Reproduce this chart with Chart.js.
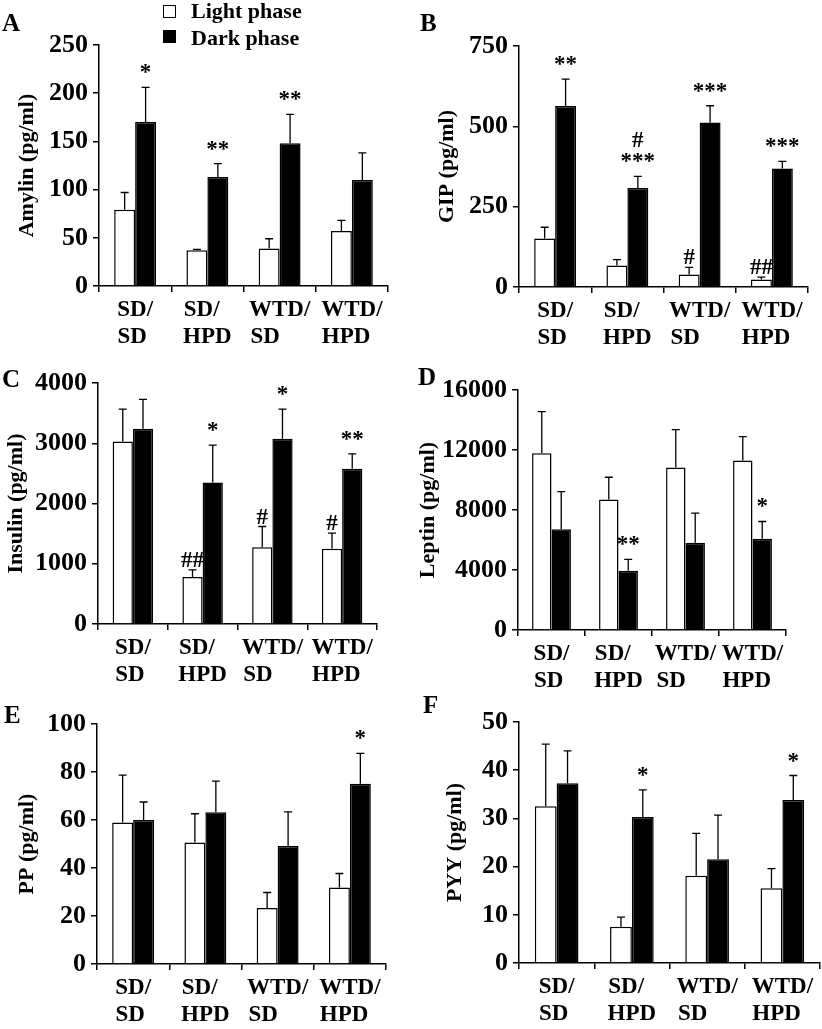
<!DOCTYPE html>
<html>
<head>
<meta charset="utf-8">
<script src="https://cdn.jsdelivr.net/npm/chart.js@4.4.1/dist/chart.umd.min.js"></script>
<style>
    html, body { margin: 0; padding: 0; background: #fff; }
    body { width: 822px; height: 1029px; position: relative; overflow: hidden;
           font-family: 'Liberation Serif', 'Times New Roman', serif; font-weight: bold; color: #000; }
    canvas { position: absolute; }
    .letter { position: absolute; font-size: 25px; line-height: 1; }
    .legend-box { position: absolute; width: 11px; height: 11px; border: 1.5px solid #000; }
    .legend-text { position: absolute; font-size: 22px; line-height: 1; white-space: nowrap; }
</style>
</head>
<body>
<canvas id="chartA" width="410" height="360" style="left:0;top:0"></canvas>
<canvas id="chartB" width="412" height="360" style="left:410px;top:0"></canvas>
<canvas id="chartC" width="410" height="360" style="left:0;top:340px"></canvas>
<canvas id="chartD" width="412" height="360" style="left:410px;top:340px"></canvas>
<canvas id="chartE" width="410" height="349" style="left:0;top:680px"></canvas>
<canvas id="chartF" width="412" height="349" style="left:410px;top:680px"></canvas>

<div class="letter" style="left:2px;top:10px">A</div>
<div class="letter" style="left:420px;top:10px">B</div>
<div class="letter" style="left:2px;top:366px">C</div>
<div class="letter" style="left:418px;top:364px">D</div>
<div class="letter" style="left:4px;top:702px">E</div>
<div class="letter" style="left:423px;top:692px">F</div>

<div class="legend-box" style="left:163px;top:5px;background:#fff"></div>
<div class="legend-text" style="left:191px;top:0px">Light phase</div>
<div class="legend-box" style="left:163px;top:30px;background:#000"></div>
<div class="legend-text" style="left:191px;top:27px">Dark phase</div>

<script>
// Categories (multi-line, padded so each block reads left-aligned).
const CATEGORIES = [['SD/', 'SD '], ['SD/  ', 'HPD'], ['WTD/', 'SD     '], ['WTD/', 'HPD  ']];

// Amylin (panel A).
const AMYLIN_LIGHT = [79, 37, 39, 57];
const AMYLIN_LIGHT_SEM = [18, 1, 10, 11];
const AMYLIN_DARK = [170, 113, 148, 110];
const AMYLIN_DARK_SEM = [36, 14, 30, 28];
const AMYLIN_LIGHT_MARKS = ['', '', '', ''];
const AMYLIN_DARK_MARKS = ['*', '**', '**', ''];

// GIP (panel B).
const GIP_LIGHT = [151, 67, 39, 23];
const GIP_LIGHT_SEM = [35, 18, 22, 8];
const GIP_DARK = [563, 308, 512, 369];
const GIP_DARK_SEM = [84, 36, 52, 22];
const GIP_LIGHT_MARKS = ['', '', '#', '##'];
const GIP_DARK_MARKS = ['**', '#\n***', '***', '***'];

// Insulin (panel C).
const INSULIN_LIGHT = [3030, 781, 1274, 1247];
const INSULIN_LIGHT_SEM = [538, 116, 344, 260];
const INSULIN_DARK = [3241, 2349, 3075, 2576];
const INSULIN_DARK_SEM = [488, 621, 493, 249];
const INSULIN_LIGHT_MARKS = ['', '##', '#', '#'];
const INSULIN_DARK_MARKS = ['', '*', '*', '**'];

// Leptin (panel D).
const LEPTIN_LIGHT = [11783, 8699, 10829, 11295];
const LEPTIN_LIGHT_SEM = [2774, 1486, 2529, 1598];
const LEPTIN_DARK = [6724, 3950, 5814, 6080];
const LEPTIN_DARK_SEM = [2507, 754, 1975, 1154];
const LEPTIN_LIGHT_MARKS = ['', '', '', ''];
const LEPTIN_DARK_MARKS = ['', '**', '', '*'];

// PP (panel E).
const PP_LIGHT = [59, 50.6, 23.3, 31.9];
const PP_LIGHT_SEM = [19.7, 12, 6.5, 5.8];
const PP_DARK = [60, 63.2, 49.2, 75.1];
const PP_DARK_SEM = [7.5, 13, 14.2, 12.7];
const PP_LIGHT_MARKS = ['', '', '', ''];
const PP_DARK_MARKS = ['', '', '', '*'];

// PYY (panel F).
const PYY_LIGHT = [32.5, 7.5, 18.1, 15.5];
const PYY_LIGHT_SEM = [12.9, 2, 8.8, 4.1];
const PYY_DARK = [37.3, 30.3, 21.5, 33.8];
const PYY_DARK_SEM = [6.7, 5.6, 9.2, 5.1];
const PYY_LIGHT_MARKS = ['', '', '', ''];
const PYY_DARK_MARKS = ['', '*', '', '*'];

Chart.defaults.font.family = "'Liberation Serif', 'Times New Roman', serif";
Chart.defaults.font.weight = 'bold';
Chart.defaults.color = '#000';

/*
*   Plugin that draws the SEM whiskers and the significance marks above each bar.
*/
const errorBars = {
    id: 'errorBars',
    afterDatasetsDraw: (chart) => {
        const ctx = chart.ctx;
        const yScale = chart.scales.y;
        chart.data.datasets.forEach((ds, di) => {
            const meta = chart.getDatasetMeta(di);
            meta.data.forEach((bar, i) => {
                const top = yScale.getPixelForValue(ds.data[i] + ds.sem[i]);
                ctx.save();
                ctx.strokeStyle = '#000';
                ctx.lineWidth = 1.3;
                ctx.beginPath();
                ctx.moveTo(bar.x, bar.y);
                ctx.lineTo(bar.x, top);
                ctx.moveTo(bar.x - 4, top);
                ctx.lineTo(bar.x + 4, top);
                ctx.stroke();
                const mark = ds.marks[i];
                if (mark) {
                    ctx.fillStyle = '#000';
                    ctx.font = "bold 23px 'Liberation Serif'";
                    ctx.textAlign = 'center';
                    ctx.textBaseline = 'alphabetic';
                    const lines = mark.split('\n').reverse();
                    let base = top - (lines[0].includes('*') ? 8 : 3);
                    lines.forEach((line) => {
                        ctx.fillText(line, bar.x, base);
                        base -= 21;
                    });
                }
                ctx.restore();
            });
        });
    }
};

/*
*   Builds one panel. area = chart area inside the canvas, titleX = centre of the y title.
*/
const makePanel = (id, title, light, lightSem, lightMarks, dark, darkSem, darkMarks, max, step, area) => {
    const canvas = document.getElementById(id);
    const W = canvas.width;
    const H = canvas.height;
    return new Chart(canvas, {
        type: 'bar',
        data: {
            labels: CATEGORIES,
            datasets: [{
                label: 'Light phase',
                data: light,
                sem: lightSem,
                marks: lightMarks,
                backgroundColor: '#fff',
                borderColor: '#000',
                borderWidth: 1.5
            }, {
                label: 'Dark phase',
                data: dark,
                sem: darkSem,
                marks: darkMarks,
                backgroundColor: '#000',
                borderColor: '#000',
                borderWidth: 1.5
            }]
        },
        options: {
            responsive: false,
            animation: false,
            layout: { padding: { left: 0, top: area.top, right: W - area.right, bottom: 0 } },
            datasets: { bar: { categoryPercentage: 0.58, barPercentage: 1 } },
            plugins: {
                legend: { display: false },
                tooltip: { enabled: false }
            },
            scales: {
                x: {
                    grid: { offset: true, drawOnChartArea: false, tickLength: 6, color: '#000', lineWidth: 1.5 },
                    border: { color: '#000', width: 1.5 },
                    ticks: { font: { size: 23 }, color: '#000', padding: 4, maxRotation: 0, autoSkip: false },
                    afterFit: (scale) => { scale.height = H - area.bottom; }
                },
                y: {
                    min: 0,
                    max: max,
                    ticks: { stepSize: step, font: { size: 26 }, color: '#000', padding: 5,
                             callback: (value) => String(value) },
                    grid: { drawOnChartArea: false, tickLength: 6, color: '#000', lineWidth: 1.5 },
                    border: { color: '#000', width: 1.5 },
                    title: { display: true, text: title, font: { size: 22 }, color: '#000', padding: { top: area.titleX - 13.2, bottom: 0 } },
                    afterFit: (scale) => { scale.width = area.left; }
                }
            }
        },
        plugins: [errorBars]
    });
};

makePanel('chartA', 'Amylin (pg/ml)', AMYLIN_LIGHT, AMYLIN_LIGHT_SEM, AMYLIN_LIGHT_MARKS,
    AMYLIN_DARK, AMYLIN_DARK_SEM, AMYLIN_DARK_MARKS, 250, 50,
    { left: 99, right: 388, top: 45, bottom: 286, titleX: 27 });
makePanel('chartB', 'GIP (pg/ml)', GIP_LIGHT, GIP_LIGHT_SEM, GIP_LIGHT_MARKS,
    GIP_DARK, GIP_DARK_SEM, GIP_DARK_MARKS, 750, 250,
    { left: 109, right: 398, top: 46, bottom: 287, titleX: 37 });
makePanel('chartC', 'Insulin (pg/ml)', INSULIN_LIGHT, INSULIN_LIGHT_SEM, INSULIN_LIGHT_MARKS,
    INSULIN_DARK, INSULIN_DARK_SEM, INSULIN_DARK_MARKS, 4000, 1000,
    { left: 98, right: 377, top: 43, bottom: 284, titleX: 16 });
makePanel('chartD', 'Leptin (pg/ml)', LEPTIN_LIGHT, LEPTIN_LIGHT_SEM, LEPTIN_LIGHT_MARKS,
    LEPTIN_DARK, LEPTIN_DARK_SEM, LEPTIN_DARK_MARKS, 16000, 4000,
    { left: 108, right: 376, top: 50, bottom: 290, titleX: 18 });
makePanel('chartE', 'PP (pg/ml)', PP_LIGHT, PP_LIGHT_SEM, PP_LIGHT_MARKS,
    PP_DARK, PP_DARK_SEM, PP_DARK_MARKS, 100, 20,
    { left: 97, right: 386, top: 44, bottom: 284, titleX: 27 });
makePanel('chartF', 'PYY (pg/ml)', PYY_LIGHT, PYY_LIGHT_SEM, PYY_LIGHT_MARKS,
    PYY_DARK, PYY_DARK_SEM, PYY_DARK_MARKS, 50, 10,
    { left: 109, right: 410, top: 42, bottom: 283, titleX: 45 });
</script>
</body>
</html>
